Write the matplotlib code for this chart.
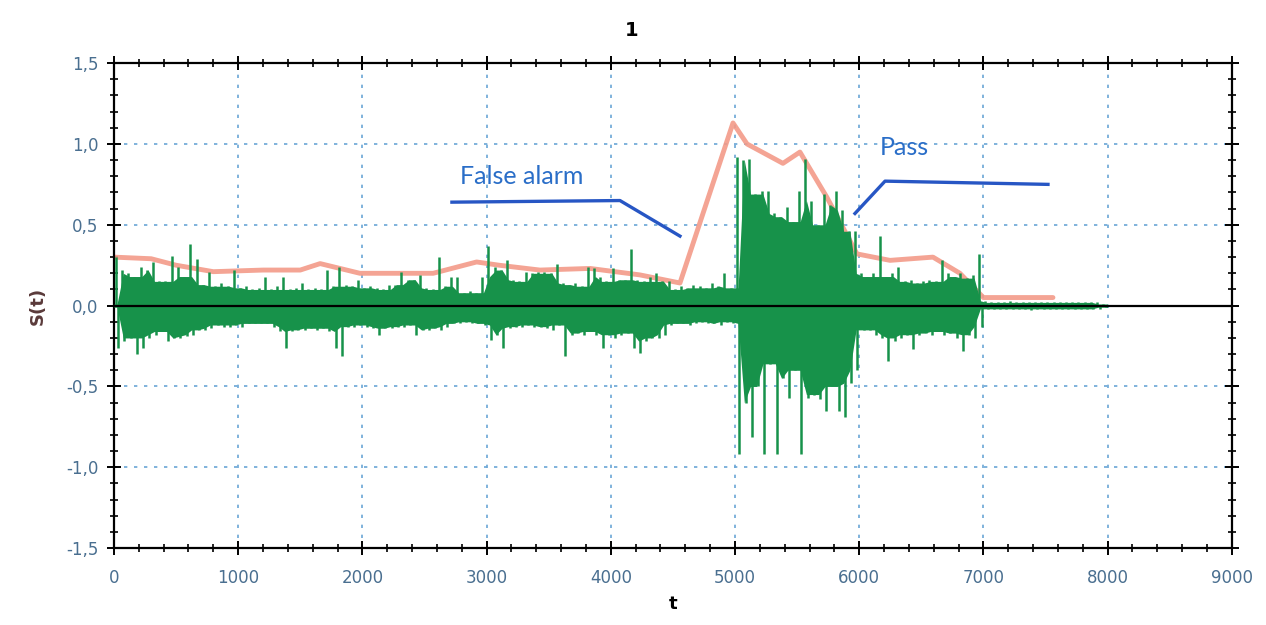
import numpy as np
import matplotlib.pyplot as plt
from matplotlib.ticker import MultipleLocator, FuncFormatter

# envelope of the detector output, one value per 50 samples (0..8000)
binWidth = 50
upperPeaks = [
	0.30, 0.22, 0.20, 0.18, 0.24, 0.22, 0.27, 0.15, 0.15, 0.31,
	0.24, 0.18, 0.38, 0.29, 0.13, 0.21, 0.12, 0.14, 0.12, 0.22,
	0.11, 0.12, 0.10, 0.11, 0.18, 0.10, 0.12, 0.18, 0.10, 0.11,
	0.14, 0.10, 0.11, 0.10, 0.22, 0.12, 0.24, 0.13, 0.12, 0.16,
	0.11, 0.12, 0.11, 0.10, 0.13, 0.13, 0.21, 0.16, 0.16, 0.19,
	0.11, 0.10, 0.30, 0.12, 0.18, 0.18, 0.08, 0.09, 0.08, 0.18,
	0.37, 0.24, 0.22, 0.28, 0.16, 0.15, 0.21, 0.20, 0.21, 0.21,
	0.20, 0.26, 0.14, 0.13, 0.14, 0.12, 0.24, 0.23, 0.18, 0.15,
	0.23, 0.16, 0.16, 0.35, 0.16, 0.15, 0.18, 0.20, 0.15, 0.15,
	0.10, 0.12, 0.11, 0.13, 0.12, 0.11, 0.14, 0.12, 0.20, 0.11,
	0.92, 0.90, 0.91, 0.69, 0.71, 0.71, 0.57, 0.55, 0.61, 0.52,
	0.71, 0.91, 0.65, 0.50, 0.69, 0.62, 0.71, 0.59, 0.46, 0.46,
	0.20, 0.18, 0.20, 0.43, 0.18, 0.20, 0.24, 0.15, 0.16, 0.14,
	0.15, 0.16, 0.15, 0.28, 0.20, 0.18, 0.20, 0.17, 0.19, 0.32,
	0.03, 0.02, 0.02, 0.02, 0.03, 0.02, 0.02, 0.02, 0.02, 0.02,
	0.02, 0.02, 0.02, 0.02, 0.02, 0.02, 0.02, 0.02, 0.02, 0.01]
lowerPeaks = [
	-0.26, -0.22, -0.20, -0.30, -0.26, -0.20, -0.18, -0.16, -0.22, -0.20,
	-0.20, -0.19, -0.18, -0.15, -0.15, -0.14, -0.12, -0.13, -0.13, -0.12,
	-0.13, -0.11, -0.11, -0.11, -0.11, -0.13, -0.16, -0.26, -0.16, -0.15,
	-0.15, -0.14, -0.15, -0.14, -0.16, -0.26, -0.31, -0.13, -0.13, -0.12,
	-0.13, -0.14, -0.18, -0.14, -0.14, -0.13, -0.13, -0.12, -0.18, -0.15,
	-0.15, -0.14, -0.15, -0.13, -0.11, -0.11, -0.10, -0.11, -0.11, -0.12,
	-0.21, -0.18, -0.26, -0.14, -0.13, -0.13, -0.12, -0.13, -0.13, -0.14,
	-0.15, -0.12, -0.31, -0.18, -0.17, -0.18, -0.16, -0.18, -0.26, -0.18,
	-0.20, -0.18, -0.17, -0.26, -0.29, -0.22, -0.20, -0.20, -0.18, -0.12,
	-0.11, -0.11, -0.12, -0.11, -0.10, -0.11, -0.11, -0.12, -0.10, -0.11,
	-0.92, -0.60, -0.81, -0.50, -0.92, -0.36, -0.92, -0.45, -0.57, -0.40,
	-0.92, -0.57, -0.55, -0.58, -0.65, -0.50, -0.65, -0.69, -0.48, -0.40,
	-0.15, -0.15, -0.18, -0.20, -0.34, -0.22, -0.20, -0.18, -0.27, -0.18,
	-0.17, -0.18, -0.16, -0.18, -0.17, -0.20, -0.28, -0.18, -0.20, -0.13,
	-0.02, -0.02, -0.02, -0.02, -0.02, -0.02, -0.02, -0.03, -0.02, -0.02,
	-0.02, -0.02, -0.02, -0.02, -0.02, -0.02, -0.02, -0.02, -0.02, -0.01]

# smoothed threshold (red)
thrT = [0, 300, 500, 800, 1200, 1500, 1660, 1980, 2570, 2920, 3100, 3430, 3833, 4235, 4557,
	4984, 5097, 5386, 5523, 5740, 5982, 6248, 6594, 6811, 7000, 7560]
thrS = [0.30, 0.29, 0.25, 0.21, 0.22, 0.22, 0.26, 0.20, 0.20, 0.27, 0.25, 0.22, 0.23, 0.19, 0.14,
	1.13, 1.00, 0.88, 0.95, 0.67, 0.32, 0.28, 0.30, 0.20, 0.05, 0.05]

# annotation pointers
falseAlarmT = [2721, 4074, 4557]
falseAlarmS = [0.64, 0.65, 0.43]
passT = [5966, 6208, 7520]
passS = [0.57, 0.77, 0.75]

xTicks = [0, 1000, 2000, 3000, 4000, 5000, 6000, 7000, 8000, 9000]
yTicks = [-1.5, -1.0, -0.5, 0.0, 0.5, 1.0, 1.5]

labelColour = "#4a6f90"
green = "#17924a"

fig = plt.figure(figsize=(12.66, 6.25), dpi=100)
ax = fig.add_axes([0.090, 0.123, 0.883, 0.776])

up = np.array(upperPeaks)
lo = np.array(lowerPeaks)
binCentres = np.arange(len(up))*binWidth + 0.5*binWidth

# dense core = smallest swing among neighbouring bins, spikes = each bin's peak
coreUp = np.minimum(np.minimum(up, np.roll(up, 1)), np.roll(up, -1))
coreLo = np.maximum(np.maximum(lo, np.roll(lo, 1)), np.roll(lo, -1))
coreT = np.concatenate([[0], binCentres, [len(up)*binWidth]])
coreUp = np.concatenate([[coreUp[0]], coreUp, [coreUp[-1]]])
coreLo = np.concatenate([[coreLo[0]], coreLo, [coreLo[-1]]])

ax.plot(thrT, thrS, color="#f39a88", lw=3.5, alpha=0.9, zorder=2, solid_capstyle="round")
ax.fill_between(coreT, coreLo, coreUp, color=green, lw=0, zorder=3)
ax.vlines(binCentres - 0.2*binWidth, 0, up, color=green, lw=1.8, zorder=3)
ax.vlines(binCentres + 0.2*binWidth, lo, 0, color=green, lw=1.8, zorder=3)
ax.axhline(0, color="black", lw=1.6, zorder=4)

ax.plot(falseAlarmT, falseAlarmS, color="#2756c4", lw=2.4, zorder=5)
ax.plot(passT, passS, color="#2756c4", lw=2.4, zorder=5)
ax.text(2786, 0.80, "False alarm", color="#2a6ec8", fontsize=18, family="Lato", va="center", zorder=5)
ax.text(6167, 0.98, "Pass", color="#2a6ec8", fontsize=18, family="Lato", va="center", zorder=5)

ax.set_xlim(0, 9000)
ax.set_ylim(-1.5, 1.5)
ax.set_xticks(xTicks)
ax.set_yticks(yTicks)
ax.xaxis.set_minor_locator(MultipleLocator(200))
ax.yaxis.set_minor_locator(MultipleLocator(0.1))
ax.yaxis.set_major_formatter(FuncFormatter(lambda v, p: f"{v:.1f}".replace(".", ",")))

ax.grid(True, which="major", color="#6aa6d6", linestyle=(0, (2, 4)), lw=1.2)
ax.tick_params(which="both", top=True, right=True, direction="inout", colors="black",
	labelcolor=labelColour, labelsize=12)
ax.tick_params(which="major", length=10, width=1.4, pad=6)
ax.tick_params(which="minor", length=6, width=1.2)
ax.tick_params(axis="x", which="major", pad=10)
for s in ax.spines.values():
	s.set_linewidth(1.6)

ax.set_xlabel("t", fontsize=13, fontweight="bold", labelpad=6)
ax.set_ylabel("S(t)", fontsize=13, fontweight="bold", color="#5a3a3a", labelpad=14)
fig.text(0.499, 0.952, "1", fontsize=14, fontweight="bold", ha="center", va="center")

plt.savefig("out.png", format="png")
